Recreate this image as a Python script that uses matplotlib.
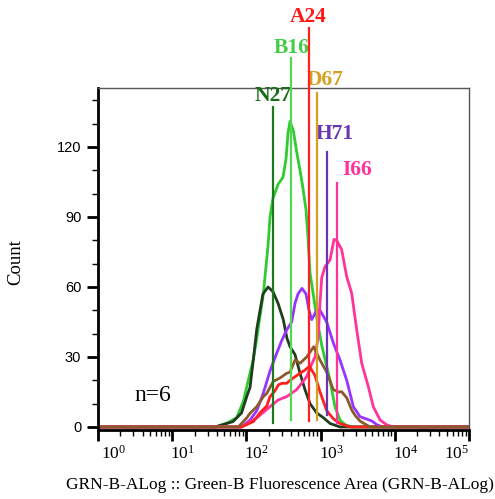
import matplotlib
matplotlib.use("Agg")
from matplotlib import pyplot as plt
from matplotlib import transforms
from matplotlib.ticker import FixedLocator, FixedFormatter, LogLocator, MultipleLocator

# histogram traces (GRN-B-A intensity, count)
b16_x = [1, 38, 55, 74, 91, 106, 124, 138, 169, 196, 208, 228, 267, 311, 342, 364, 387,
         429, 481, 528, 574, 636, 676, 720, 886, 1035, 1339, 1563, 1824, 2131, 2649, 100000]
b16_y = [0, 0, 1.7, 4, 11, 20, 29, 38, 57, 78, 90, 98, 104, 107, 115, 126, 131,
         127, 117, 110, 103, 93, 81, 66, 47, 35, 20, 8.6, 3, 1, 0, 0]

n27_x = [1, 38, 66, 86, 101, 112, 123, 138, 167, 196, 228, 267, 314, 352, 387, 452,
         528, 616, 720, 886, 1087, 1339, 1824, 100000]
n27_y = [0, 0, 2.3, 6, 13, 17, 28, 42, 57, 60, 58, 53, 46, 38, 34.4, 31,
         23, 16, 10, 6, 4, 1.5, 0, 0]

h71_x = [1, 86, 112, 138, 167, 208, 256, 299, 349, 408, 452, 496, 561, 636, 698, 759,
         886, 982, 1208, 1484, 1824, 2249, 2760, 3399, 4093, 4928, 5754, 6934, 100000]
h71_y = [0, 0, 3, 7, 14, 24, 31.6, 37, 41.6, 45, 53, 57, 59.4, 57, 50, 46,
         50, 50, 45, 36, 28.7, 20, 8.7, 4.4, 3.5, 2.5, 0.9, 0, 0]

i66_x = [1, 86, 138, 208, 269, 349, 476, 650, 759, 841, 931, 967, 1035, 1146, 1339,
         1517, 1648, 1923, 2249, 2624, 3067, 3581, 4395, 5129, 6324, 7780, 9550, 100000]
i66_y = [0, 0, 3.9, 8.7, 11.6, 13, 16, 21.6, 27, 30, 39, 50, 64, 68.7, 71.6,
         80.4, 80, 76, 64.4, 57.3, 41.6, 27.3, 17.3, 8.7, 3, 0.9, 0, 0]

a24_x = [1, 86, 124, 152, 188, 208, 243, 269, 299, 349, 387, 429, 500, 616, 708, 841,
         982, 1208, 1484, 1824, 2491, 100000]
a24_y = [0, 0, 2.3, 6, 9, 13, 15.5, 18, 18.7, 18.7, 20, 21, 22.5, 24.4, 26, 22,
         15, 7, 3.5, 1.5, 0, 0]

d67_x = [1, 78, 101, 112, 138, 169, 188, 230, 284, 349, 387, 452, 528, 650, 807, 982,
         1208, 1484, 1733, 1923, 2249, 2624, 2910, 3399, 4632, 100000]
d67_y = [0, 0, 3.9, 5.9, 8.7, 13, 14.4, 19.5, 21, 23, 23.5, 28.7, 27.3, 30, 34.4, 28.7,
         23.5, 16, 15, 15.1, 12.5, 7.3, 5, 2.5, 0, 0]

# median markers
sample_names = ["N27", "B16", "A24", "D67", "H71", "I66"]
medians = [226, 405, 687, 900, 1219, 1663]
marker_tops = [137, 158, 171, 143, 118, 104.5]
marker_bottoms = [1.5, 3, 2.7, 3, 5, 1.5]

fig = plt.figure(figsize=(4.95, 4.99), dpi=100)
ax = fig.add_axes([0.198, 0.1383, 0.7495, 0.6854])

lw = 2
ax.plot(b16_x, b16_y, color='#2fcc2f', lw=lw, solid_joinstyle='round')
ax.plot(n27_x, n27_y, color='#1f3d1f', lw=lw, solid_joinstyle='round')
ax.plot(h71_x, h71_y, color='#9933ff', lw=lw, solid_joinstyle='round')
ax.plot(i66_x, i66_y, color='#ff3399', lw=lw, solid_joinstyle='round')
ax.plot(a24_x, a24_y, color='#ff2020', lw=lw, solid_joinstyle='round')
ax.plot(d67_x, d67_y, color='#8b5a2b', lw=lw, solid_joinstyle='round')

line_colors = ['#1e7a1e', '#55d455', '#ff2020', '#d4a020', '#6a35b0', '#ff3399']
label_colors = ['#1a6b1a', '#44cc44', '#ff1a1a', '#d4a020', '#6a35b0', '#ff3399']
label_offsets = [(0, 11), (0, 10), (0, 11), (8, 13), (8, 18), (20, 13)]

for name, m, top, bot, lc, tc, off in zip(sample_names, medians, marker_tops, marker_bottoms,
                                          line_colors, label_colors, label_offsets):
  ax.plot([m, m], [bot, top], color=lc, lw=1.6, zorder=5, clip_on=False)
  ax.annotate(name, xy=(m, top), xytext=off, textcoords='offset pixels',
              ha='center', va='center', color=tc, fontsize=15.5, fontweight='bold',
              family='Liberation Serif', annotation_clip=False)

ax.text(5.5, 13.4, 'n=6', ha='center', va='center', fontsize=17, family='Liberation Serif')

ax.set_xscale('log')
ax.set_xlim(1, 1e5)
ax.set_ylim(-1.3, 145.3)

ax.xaxis.set_major_locator(FixedLocator([1, 10, 100, 1000, 10000, 100000]))
ax.xaxis.set_major_formatter(FixedFormatter([r'$\mathregular{10^{%d}}$' % i for i in range(6)]))
ax.xaxis.set_minor_locator(LogLocator(base=10, subs=range(2, 10), numticks=20))
ax.xaxis.set_minor_formatter(FixedFormatter([]))
ax.yaxis.set_major_locator(MultipleLocator(30))
ax.yaxis.set_minor_locator(MultipleLocator(10))

ax.tick_params(axis='x', which='major', direction='out', length=8, width=2, pad=3, labelsize=12.5)
ax.tick_params(axis='x', which='minor', direction='out', length=4.5, width=1)
ax.tick_params(axis='y', which='major', direction='out', length=8, width=2, pad=4, labelsize=10.5)
ax.tick_params(axis='y', which='minor', direction='out', length=4.5, width=1)

for lab in ax.get_xticklabels():
  lab.set_family('Liberation Serif')
for lab in ax.get_yticklabels():
  lab.set_family('Liberation Sans')

x_shift = [16, 10, 10, 11, 11, -12]
for lab, dx in zip(ax.get_xticklabels(), x_shift):
  lab.set_transform(lab.get_transform() + transforms.ScaledTranslation(dx / 100, 0, fig.dpi_scale_trans))

for side in ['left', 'bottom']:
  ax.spines[side].set_linewidth(2)
  ax.spines[side].set_color('black')
for side in ['top', 'right']:
  ax.spines[side].set_linewidth(1)
  ax.spines[side].set_color('#555555')

ax.set_ylabel('Count', family='Liberation Serif', fontsize=13.5, va='center')
ax.yaxis.set_label_coords(-0.221, 0.49)
ax.set_xlabel('GRN-B-ALog :: Green-B Fluorescence Area (GRN-B-ALog)', family='Liberation Serif',
              fontsize=12.5, va='center')
ax.xaxis.set_label_coords(0.49, -0.162)

fig.savefig('out.png', dpi=100)
